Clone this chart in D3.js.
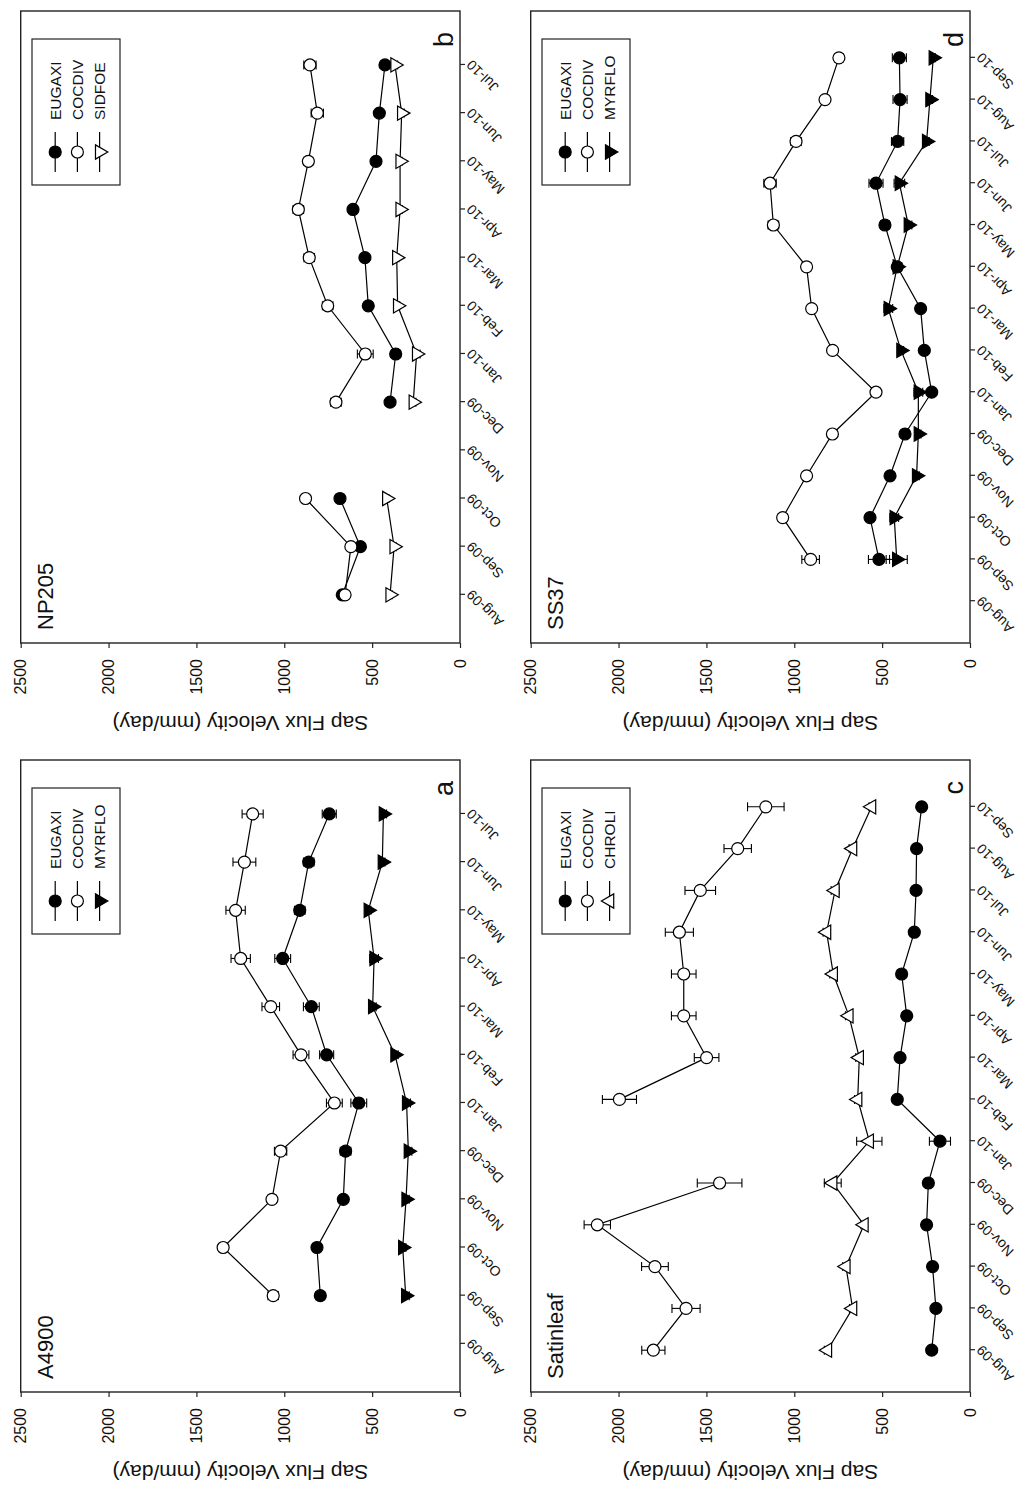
<!DOCTYPE html>
<html>
<head>
<meta charset="utf-8">
<script src="https://cdn.jsdelivr.net/npm/d3@7"></script>
<style>
  body { margin: 0; background: #fff; }
  svg { display: block; background: #fff; }
  text { font-family: "Liberation Sans", Arial, Helvetica, sans-serif; fill: #111; }
</style>
</head>
<body>
<svg id="fig" width="1020" height="1485"></svg>
<script>
// ---- month categories and value ticks ----
const monthsAB = ["Aug-09","Sep-09","Oct-09","Nov-09","Dec-09","Jan-10","Feb-10","Mar-10","Apr-10","May-10","Jun-10","Jul-10"];
const monthsCD = ["Aug-09","Sep-09","Oct-09","Nov-09","Dec-09","Jan-10","Feb-10","Mar-10","Apr-10","May-10","Jun-10","Jul-10","Aug-10","Sep-10"];
const valueTicks = [0, 500, 1000, 1500, 2000, 2500];

// ---- site A4900 (a) : mean sap flux velocity and error (mm/day) ----
const a_EUGAXI    = [null, 795, 814, 664, 651, 576, 759, 846, 1009, 912, 861, 744];
const a_EUGAXI_se = [null, 25, 20, 20, 30, 45, 40, 45, 45, 30, 30, 40];
const a_COCDIV    = [null, 1063, 1348, 1070, 1021, 715, 905, 1077, 1248, 1277, 1227, 1180];
const a_COCDIV_se = [null, 30, 25, 25, 35, 45, 45, 50, 55, 55, 65, 60];
const a_MYRFLO    = [null, 309, 326, 307, 294, 304, 370, 497, 489, 522, 442, 436];
const a_MYRFLO_se = [null, 20, 18, 18, 20, 22, 18, 20, 25, 15, 15, 18];

// ---- site NP205 (b) ----
const b_EUGAXI    = [670, 567, 683, null, 398, 366, 522, 541, 609, 478, 459, 427];
const b_EUGAXI_se = [15, 15, 12, null, 15, 15, 15, 15, 15, 12, 12, 15];
const b_COCDIV    = [654, 621, 879, null, 706, 539, 753, 858, 920, 863, 812, 854];
const b_COCDIV_se = [20, 20, 20, null, 30, 45, 30, 30, 30, 25, 35, 35];
const b_SIDFOE    = [398, 375, 417, null, 266, 247, 355, 360, 341, 341, 332, 370];
const b_SIDFOE_se = [12, 12, 12, null, 15, 20, 12, 12, 12, 12, 15, 15];

// ---- site Satinleaf (c) ----
const c_EUGAXI    = [218, 194, 213, 247, 237, 171, 414, 398, 360, 389, 317, 307, 304, 275];
const c_EUGAXI_se = [15, 15, 15, 15, 15, 60, 15, 15, 15, 15, 15, 15, 15, 15];
const c_COCDIV    = [1802, 1616, 1793, 2121, 1425, null, 1995, 1499, 1629, 1629, 1654, 1535, 1322, 1162];
const c_COCDIV_se = [66, 80, 76, 75, 127, null, 97, 70, 70, 70, 80, 87, 78, 104];
const c_CHROLI    = [811, 668, 706, 603, 781, 573, 639, 630, 689, 778, 816, 768, 668, 560];
const c_CHROLI_se = [18, 18, 18, 18, 48, 72, 18, 20, 20, 20, 20, 22, 20, 15];

// ---- site SS37 (d) ----
const d_EUGAXI    = [null, 518, 569, 455, 370, 218, 260, 281, 414, 484, 535, 412, 398, 402];
const d_EUGAXI_se = [null, 60, 25, 20, 20, 15, 15, 15, 25, 25, 40, 35, 40, 40];
const d_COCDIV    = [null, 907, 1066, 930, 783, 535, 782, 901, 930, 1119, 1138, 990, 825, 746];
const d_COCDIV_se = [null, 50, 25, 20, 20, 25, 20, 20, 25, 30, 35, 30, 20, 25];
const d_MYRFLO    = [null, 417, 431, 304, 294, 294, 393, 465, 414, 351, 402, 247, 228, 209];
const d_MYRFLO_se = [null, 60, 25, 15, 15, 25, 15, 25, 25, 20, 30, 15, 15, 12];

// ---- panel definitions ----
const panels = [
  { letter: "a", site: "A4900", months: monthsAB, col: 0, row: 0, series: [
      { name: "EUGAXI", marker: "dot",    values: a_EUGAXI, err: a_EUGAXI_se },
      { name: "COCDIV", marker: "circle", values: a_COCDIV, err: a_COCDIV_se },
      { name: "MYRFLO", marker: "triDownFilled", values: a_MYRFLO, err: a_MYRFLO_se } ] },
  { letter: "b", site: "NP205", months: monthsAB, col: 1, row: 0, series: [
      { name: "EUGAXI", marker: "dot",    values: b_EUGAXI, err: b_EUGAXI_se },
      { name: "COCDIV", marker: "circle", values: b_COCDIV, err: b_COCDIV_se },
      { name: "SIDFOE", marker: "triDownOpen", values: b_SIDFOE, err: b_SIDFOE_se } ] },
  { letter: "c", site: "Satinleaf", months: monthsCD, col: 0, row: 1, series: [
      { name: "EUGAXI", marker: "dot",    values: c_EUGAXI, err: c_EUGAXI_se },
      { name: "COCDIV", marker: "circle", values: c_COCDIV, err: c_COCDIV_se },
      { name: "CHROLI", marker: "triUpOpen", values: c_CHROLI, err: c_CHROLI_se } ] },
  { letter: "d", site: "SS37", months: monthsCD, col: 1, row: 1, series: [
      { name: "EUGAXI", marker: "dot",    values: d_EUGAXI, err: d_EUGAXI_se },
      { name: "COCDIV", marker: "circle", values: d_COCDIV, err: d_COCDIV_se },
      { name: "MYRFLO", marker: "triDownFilled", values: d_MYRFLO, err: d_MYRFLO_se } ] }
];

// The figure is laid out landscape (1485 x 1020) and turned a quarter
// turn counter-clockwise onto the portrait page.
const W = 1485;
const colX = [[93, 725], [842, 1474]];
const rowY = [[20.7, 460], [530.7, 970]];

const svg = d3.select("#fig");
const root = svg.append("g").attr("transform", `translate(0,${W}) rotate(-90)`);

const markerStyle = {
  dot:           { type: d3.symbolCircle,   size: 113, rot: 0,   fill: "#000" },
  circle:        { type: d3.symbolCircle,   size: 113, rot: 0,   fill: "#fff" },
  triDownFilled: { type: d3.symbolTriangle, size: 88,  rot: 180, fill: "#000" },
  triDownOpen:   { type: d3.symbolTriangle, size: 88,  rot: 180, fill: "#fff" },
  triUpOpen:     { type: d3.symbolTriangle, size: 88,  rot: 0,   fill: "#fff" }
};

function drawMarker(g, kind, cx, cy) {
  const m = markerStyle[kind];
  g.append("path")
    .attr("d", d3.symbol().type(m.type).size(m.size)())
    .attr("transform", `translate(${cx},${cy}) rotate(${m.rot})`)
    .attr("fill", m.fill)
    .attr("stroke", "#000")
    .attr("stroke-width", 1.2);
}

panels.forEach(p => {
  const [x0, x1] = colX[p.col];
  const [y0, y1] = rowY[p.row];
  const n = p.months.length;
  const x = d3.scaleLinear().domain([0, n + 1.12]).range([x0, x1]);
  const y = d3.scaleLinear().domain([0, 2500]).range([y1, y0]);
  const g = root.append("g");

  // value axis
  const ya = g.append("g").attr("transform", `translate(${x0},0)`)
    .call(d3.axisLeft(y).tickValues(valueTicks).tickSize(5).tickPadding(11).tickFormat(d3.format("d")));
  ya.select(".domain").remove();
  ya.selectAll("line").attr("stroke", "#222").attr("stroke-width", 1.2);
  ya.selectAll("text").attr("font-size", 16).style("font-family", "Liberation Sans, Arial, sans-serif");

  // month axis
  const xa = g.append("g").attr("transform", `translate(0,${y1})`)
    .call(d3.axisBottom(x).tickValues(d3.range(1, n + 1)).tickSize(5).tickFormat(i => p.months[i - 1]));
  xa.select(".domain").remove();
  xa.selectAll("line").attr("stroke", "#222").attr("stroke-width", 1.2);
  xa.selectAll("text")
    .attr("font-size", 14)
    .style("font-family", "Liberation Sans, Arial, sans-serif")
    .attr("x", 0).attr("y", 0).attr("dy", "0.35em")
    .attr("text-anchor", "end")
    .attr("transform", "translate(2,9) rotate(-45)");

  // frame
  g.append("rect").attr("x", x0).attr("y", y0).attr("width", x1 - x0).attr("height", y1 - y0)
    .attr("fill", "none").attr("stroke", "#222").attr("stroke-width", 1.4);

  // axis title
  g.append("text")
    .attr("transform", `translate(${x0 - 80},${(y0 + y1) / 2}) rotate(-90)`)
    .attr("text-anchor", "middle").attr("dominant-baseline", "central")
    .attr("font-size", 21)
    .text("Sap Flux Velocity (mm/day)");

  // error bars
  p.series.forEach(s => {
    s.values.forEach((v, i) => {
      if (v == null) return;
      const cx = x(i + 1), e = s.err[i];
      const eb = g.append("g").attr("stroke", "#000").attr("stroke-width", 1.1);
      eb.append("line").attr("x1", cx).attr("x2", cx).attr("y1", y(v - e)).attr("y2", y(v + e));
      eb.append("line").attr("x1", cx - 4.5).attr("x2", cx + 4.5).attr("y1", y(v - e)).attr("y2", y(v - e));
      eb.append("line").attr("x1", cx - 4.5).attr("x2", cx + 4.5).attr("y1", y(v + e)).attr("y2", y(v + e));
    });
  });

  // connecting lines
  const line = d3.line().defined(d => d.v != null).x(d => x(d.i + 1)).y(d => y(d.v));
  p.series.forEach(s => {
    g.append("path")
      .attr("d", line(s.values.map((v, i) => ({ v, i }))))
      .attr("fill", "none").attr("stroke", "#000").attr("stroke-width", 1.2);
  });

  // markers
  p.series.forEach(s => {
    s.values.forEach((v, i) => {
      if (v == null) return;
      drawMarker(g, s.marker, x(i + 1), y(v));
    });
  });

  // legend
  const bx = x1 - 174, by = y0 + 11.3;
  g.append("rect").attr("x", bx).attr("y", by).attr("width", 146).attr("height", 88)
    .attr("fill", "#fff").attr("stroke", "#222").attr("stroke-width", 1.2);
  p.series.forEach((s, k) => {
    const ry = by + 23.2 + k * 22.2;
    g.append("line").attr("x1", bx + 13).attr("x2", bx + 53).attr("y1", ry).attr("y2", ry)
      .attr("stroke", "#000").attr("stroke-width", 1.2);
    drawMarker(g, s.marker, bx + 33, ry);
    g.append("text").attr("x", bx + 65).attr("y", ry).attr("dy", "0.36em")
      .attr("font-size", 15.5).text(s.name);
  });

  // site name and panel letter
  g.append("text").attr("x", x0 + 13).attr("y", y0 + 32).attr("font-size", 22).text(p.site);
  g.append("text").attr("x", x1 - 21).attr("y", y1 - 7).attr("text-anchor", "end")
    .attr("font-size", 27).text(p.letter);
});
</script>
</body>
</html>
